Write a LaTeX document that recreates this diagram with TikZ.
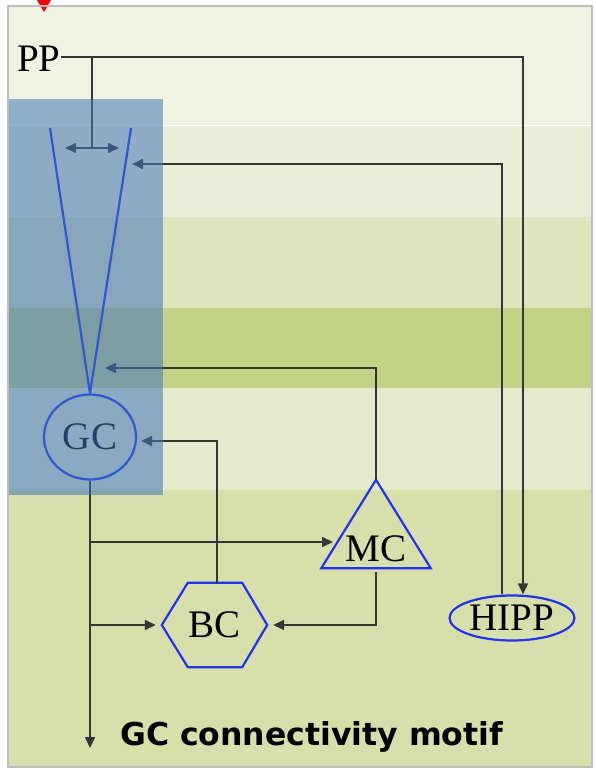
\documentclass[tikz,border=0pt]{standalone}
\usepackage{fontspec}
\newfontfamily\dgcserif{Liberation Serif}
\newfontfamily\dgcsans{DejaVu Sans}
\usetikzlibrary{arrows.meta,shapes.geometric}
\definecolor{dgcBandA}{HTML}{F0F3E2}
\definecolor{dgcBandB}{HTML}{EBEED6}
\definecolor{dgcBandC}{HTML}{DEE5BD}
\definecolor{dgcBandD}{HTML}{C5D389}
\definecolor{dgcBandE}{HTML}{E6EACC}
\definecolor{dgcBandF}{HTML}{D7E0AB}
\definecolor{dgcWire}{HTML}{363636}
\definecolor{dgcBlue}{HTML}{2233EE}
\definecolor{dgcOverlay}{HTML}{4076B8}
\definecolor{dgcFrame}{HTML}{BDBDBD}
\tikzset{
  dgc wire/.style={draw=dgcWire, line width=1.6pt},
  dgc arrow/.style={dgc wire, -{Triangle[length=11pt,width=10pt]}},
  dgc line/.style={draw=dgcBlue, line width=2.2pt},
  dgc label/.style={font=\dgcserif\fontsize{39}{41}\selectfont, text=black, inner sep=0pt},
  dgc cell/.style={dgc label, dgc line},
  dgc frame/.style={dgc label, rectangle},
  dgc title/.style={font=\dgcsans\bfseries\fontsize{31.5}{34}\selectfont, text=black, inner sep=0pt},
}

\begin{document}
\begin{tikzpicture}[x=1pt,y=-1pt]
  \useasboundingbox (0,0) rectangle (596,771);
  % layers
  \fill[dgcBandA] (8,6) rectangle (592,125);
  \fill[dgcBandB] (8,125) rectangle (592,217);
  \fill[dgcBandC] (8,217) rectangle (592,308);
  \fill[dgcBandD] (8,308) rectangle (592,388);
  \fill[dgcBandE] (8,388) rectangle (592,490);
  \fill[dgcBandF] (8,490) rectangle (592,767);
  \draw[white, line width=1pt] (8,125) -- (592,125);
  \fill[red] (37,0) -- (51,0) -- (44,12) -- cycle;

  % cells
  \node[dgc cell, ellipse, minimum width=92pt, minimum height=85pt] (gc) at (90,437) {GC};
  \node[dgc cell, ellipse, minimum width=125pt, minimum height=45pt] (hipp) at (512,618) {HIPP};
  \node[dgc frame, minimum width=105pt, minimum height=84pt] (bc) at (214.5,625) {BC};
  \node[dgc frame, minimum width=109pt, minimum height=88pt] (mc) at (376,524) {};
  \node[dgc label, yshift=-25pt] (mclabel) at (mc) {MC};
  \node[dgc label] (pp) at (39,59) {PP};
  \draw[dgc line] (bc.west) -- ([xshift=26pt]bc.north west) -- ([xshift=-25pt]bc.north east)
    -- (bc.east) -- ([xshift=-25pt]bc.south east) -- ([xshift=26pt]bc.south west) -- cycle;
  \draw[dgc line] (mc.north) -- (mc.south east) -- (mc.south west) -- cycle;
  \coordinate (coneL) at (50,128);
  \coordinate (coneR) at (131,128);
  \draw[dgc line] (coneL) -- (gc.north);
  \draw[dgc line] (coneR) -- (gc.north);

  % perforant path
  \coordinate (ppturn) at (523,57);
  \coordinate (ppsplit) at (92,57);
  \coordinate (spreadL) at (65,148);
  \coordinate (spreadR) at (119,148);
  \draw[dgc arrow] (pp.east |- ppturn) -- (ppturn) -- (ppturn |- hipp.north);
  \draw[dgc wire] (ppsplit) -- (ppsplit |- spreadL);
  \draw[dgc wire, {Triangle[length=11pt,width=10pt]}-{Triangle[length=11pt,width=10pt]}] (spreadL) -- (spreadR);

  % feedback
  \coordinate (hippin) at (132,164);
  \coordinate (mcin) at (105,368);
  \coordinate (bcin) at (141,441);
  \draw[dgc arrow] ([xshift=-10pt]hipp.north) |- (hippin);
  \draw[dgc arrow] (mc.north) |- (mcin);
  \draw[dgc arrow] ([xshift=2.5pt]bc.north) |- (bcin);

  % mossy fibres
  \coordinate (gcout) at (90,748);
  \coordinate (gctapA) at (90,542);
  \coordinate (gctapB) at (90,625);
  \coordinate (mcside) at (333,542);
  \draw[dgc arrow] (gc.south) -- (gcout);
  \draw[dgc arrow] (gctapA) -- (mcside);
  \draw[dgc arrow] (gctapB) -- ([xshift=-6pt]bc.west);
  \draw[dgc arrow] ([yshift=-4pt]mc.south) |- ([xshift=6pt]bc.east);

  \fill[dgcOverlay, opacity=0.55] (8,99) rectangle (163,495);
  \draw[dgcFrame, line width=1.5pt] (8,6) rectangle (592,767);
  \node[dgc title, anchor=base west] (motif) at (120,745) {GC connectivity motif};
\end{tikzpicture}
\end{document}
